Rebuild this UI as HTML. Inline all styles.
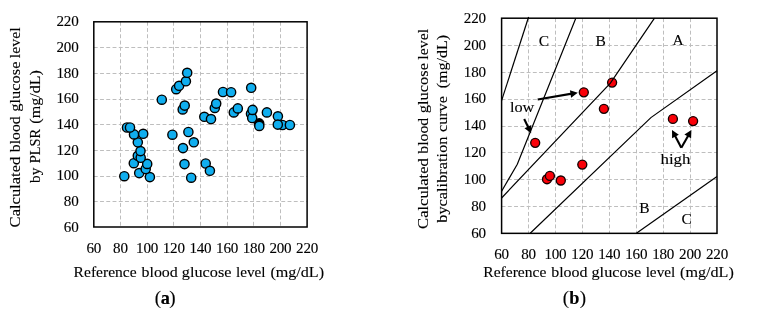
<!DOCTYPE html>
<html lang="en"><head><meta charset="utf-8"><title>Blood glucose level: PLSR and calibration curve</title>
<style>html,body{margin:0;padding:0;background:#fff}body{width:766px;height:312px;overflow:hidden}svg{display:block}text{font-family:"Liberation Serif",serif;font-size:14.67px;fill:#000;stroke:#000;stroke-width:0.12px}.grid{stroke:#bebebe;stroke-width:1;stroke-dasharray:3.9 2.35;fill:none}.lt{font-size:15.5px}.cap{font-size:18.3px}.tk text{font-size:15.1px;letter-spacing:-0.2px}.box{stroke:#000;stroke-width:1.5;fill:none}.ln{stroke:#000;stroke-width:1.2;fill:none}.pa{fill:#10aeef;stroke:#000;stroke-width:1.4}.pb{fill:#fa0008;stroke:#140000;stroke-width:1.35}.ar{stroke:#000;stroke-width:1.8;fill:none}</style></head><body>
<svg width="766" height="312" viewBox="0 0 766 312">
<rect width="766" height="312" fill="#fff"/>
<g class="grid">
<line x1="120.50" y1="21.80" x2="120.50" y2="227.00"/>
<line x1="93.80" y1="201.50" x2="307.10" y2="201.50"/>
<line x1="147.50" y1="21.80" x2="147.50" y2="227.00"/>
<line x1="93.80" y1="176.50" x2="307.10" y2="176.50"/>
<line x1="173.50" y1="21.80" x2="173.50" y2="227.00"/>
<line x1="93.80" y1="150.50" x2="307.10" y2="150.50"/>
<line x1="200.50" y1="21.80" x2="200.50" y2="227.00"/>
<line x1="93.80" y1="124.50" x2="307.10" y2="124.50"/>
<line x1="227.50" y1="21.80" x2="227.50" y2="227.00"/>
<line x1="93.80" y1="99.50" x2="307.10" y2="99.50"/>
<line x1="253.50" y1="21.80" x2="253.50" y2="227.00"/>
<line x1="93.80" y1="73.50" x2="307.10" y2="73.50"/>
<line x1="280.50" y1="21.80" x2="280.50" y2="227.00"/>
<line x1="93.80" y1="47.50" x2="307.10" y2="47.50"/>
</g>
<g class="pa">
<circle cx="124.3" cy="176.2" r="4.6"/>
<circle cx="149.9" cy="177.1" r="4.6"/>
<circle cx="139.2" cy="173.1" r="4.6"/>
<circle cx="145.7" cy="169.0" r="4.6"/>
<circle cx="147.2" cy="163.9" r="4.6"/>
<circle cx="133.8" cy="163.2" r="4.6"/>
<circle cx="137.8" cy="155.8" r="4.6"/>
<circle cx="140.7" cy="157.8" r="4.6"/>
<circle cx="140.5" cy="151.1" r="4.6"/>
<circle cx="137.8" cy="142.3" r="4.6"/>
<circle cx="134.0" cy="134.4" r="4.6"/>
<circle cx="143.2" cy="133.8" r="4.6"/>
<circle cx="127.0" cy="127.5" r="4.6"/>
<circle cx="130.0" cy="127.5" r="4.6"/>
<circle cx="191.2" cy="177.7" r="4.6"/>
<circle cx="184.5" cy="164.1" r="4.6"/>
<circle cx="183.0" cy="148.1" r="4.6"/>
<circle cx="193.8" cy="142.3" r="4.6"/>
<circle cx="172.4" cy="134.7" r="4.6"/>
<circle cx="188.4" cy="132.0" r="4.6"/>
<circle cx="182.7" cy="109.4" r="4.6"/>
<circle cx="184.7" cy="105.6" r="4.6"/>
<circle cx="161.8" cy="99.7" r="4.6"/>
<circle cx="176.2" cy="89.2" r="4.6"/>
<circle cx="179.1" cy="85.8" r="4.6"/>
<circle cx="185.9" cy="81.3" r="4.6"/>
<circle cx="187.2" cy="72.8" r="4.6"/>
<circle cx="205.7" cy="163.5" r="4.6"/>
<circle cx="209.9" cy="170.8" r="4.6"/>
<circle cx="204.3" cy="116.8" r="4.6"/>
<circle cx="211.0" cy="119.1" r="4.6"/>
<circle cx="214.8" cy="107.9" r="4.6"/>
<circle cx="216.2" cy="103.6" r="4.6"/>
<circle cx="233.8" cy="112.4" r="4.6"/>
<circle cx="237.8" cy="108.4" r="4.6"/>
<circle cx="223.0" cy="92.0" r="4.6"/>
<circle cx="231.1" cy="92.2" r="4.6"/>
<circle cx="259.2" cy="123.4" r="4.6" fill="#000"/>
<circle cx="259.3" cy="125.9" r="4.6"/>
<circle cx="251.0" cy="113.8" r="4.6"/>
<circle cx="252.2" cy="118.0" r="4.6"/>
<circle cx="252.6" cy="109.9" r="4.6"/>
<circle cx="266.9" cy="112.4" r="4.6"/>
<circle cx="282.5" cy="125.0" r="4.6"/>
<circle cx="289.9" cy="125.0" r="4.6"/>
<circle cx="277.9" cy="116.3" r="4.6"/>
<circle cx="277.8" cy="124.6" r="4.6"/>
<circle cx="251.2" cy="87.8" r="4.6"/>
</g>
<rect class="box" x="93.80" y="21.80" width="213.30" height="205.20"/>
<g class="tk" text-anchor="end">
<text x="78.5" y="231.60">60</text>
<text x="78.5" y="205.95">80</text>
<text x="78.5" y="180.30">100</text>
<text x="78.5" y="154.65">120</text>
<text x="78.5" y="129.00">140</text>
<text x="78.5" y="103.35">160</text>
<text x="78.5" y="77.70">180</text>
<text x="78.5" y="52.05">200</text>
<text x="78.5" y="26.40">220</text>
</g>
<g class="tk" text-anchor="middle">
<text x="93.80" y="253.3">60</text>
<text x="120.46" y="253.3">80</text>
<text x="147.12" y="253.3">100</text>
<text x="173.79" y="253.3">120</text>
<text x="200.45" y="253.3">140</text>
<text x="227.11" y="253.3">160</text>
<text x="253.77" y="253.3">180</text>
<text x="280.44" y="253.3">200</text>
<text x="307.10" y="253.3">220</text>
</g>
<text class="lt" y="277.20"><tspan x="73.60" textLength="63.07" lengthAdjust="spacingAndGlyphs">Reference</tspan> <tspan x="141.50" textLength="36.32" lengthAdjust="spacingAndGlyphs">blood</tspan> <tspan x="181.81" textLength="49.62" lengthAdjust="spacingAndGlyphs">glucose</tspan> <tspan x="235.95" textLength="29.61" lengthAdjust="spacingAndGlyphs">level</tspan> <tspan x="270.42" textLength="53.66" lengthAdjust="spacingAndGlyphs">(mg/dL)</tspan></text>
<text class="lt" transform="translate(19.90 0) rotate(-90)"><tspan x="-227.40" textLength="70.70" lengthAdjust="spacingAndGlyphs">Calculated</tspan> <tspan x="-152.20" textLength="35.92" lengthAdjust="spacingAndGlyphs">blood</tspan> <tspan x="-111.69" textLength="50.14" lengthAdjust="spacingAndGlyphs">glucose</tspan> <tspan x="-58.26" textLength="30.94" lengthAdjust="spacingAndGlyphs">level</tspan></text>
<text class="lt" transform="translate(39.90 0) rotate(-90)"><tspan x="-182.90" textLength="15.30" lengthAdjust="spacingAndGlyphs">by</tspan> <tspan x="-163.26" textLength="34.22" lengthAdjust="spacingAndGlyphs">PLSR</tspan> <tspan x="-123.68" textLength="53.46" lengthAdjust="spacingAndGlyphs">(mg/dL)</tspan></text>
<text class="cap" x="165.2" y="303.7" text-anchor="middle"><tspan style="font-size:19px">(</tspan><tspan font-weight="bold" dx="-0.5">a</tspan><tspan style="font-size:19px" dx="-0.5">)</tspan></text>
<g class="grid">
<line x1="528.50" y1="18.20" x2="528.50" y2="233.35"/>
<line x1="501.60" y1="206.50" x2="717.00" y2="206.50"/>
<line x1="555.50" y1="18.20" x2="555.50" y2="233.35"/>
<line x1="501.60" y1="179.50" x2="717.00" y2="179.50"/>
<line x1="582.50" y1="18.20" x2="582.50" y2="233.35"/>
<line x1="501.60" y1="152.50" x2="717.00" y2="152.50"/>
<line x1="609.50" y1="18.20" x2="609.50" y2="233.35"/>
<line x1="501.60" y1="126.50" x2="717.00" y2="126.50"/>
<line x1="636.50" y1="18.20" x2="636.50" y2="233.35"/>
<line x1="501.60" y1="99.50" x2="717.00" y2="99.50"/>
<line x1="663.50" y1="18.20" x2="663.50" y2="233.35"/>
<line x1="501.60" y1="72.50" x2="717.00" y2="72.50"/>
<line x1="690.50" y1="18.20" x2="690.50" y2="233.35"/>
<line x1="501.60" y1="45.50" x2="717.00" y2="45.50"/>
</g>
<g class="pb">
<circle cx="583.8" cy="92.3" r="4.5"/>
<circle cx="612.1" cy="82.6" r="4.5"/>
<circle cx="603.9" cy="108.8" r="4.5"/>
<circle cx="672.9" cy="118.9" r="4.5"/>
<circle cx="693.1" cy="121.1" r="4.5"/>
<circle cx="535.2" cy="142.8" r="4.5"/>
<circle cx="547.0" cy="179.2" r="4.5"/>
<circle cx="549.9" cy="175.9" r="4.5"/>
<circle cx="560.8" cy="180.5" r="4.5"/>
<circle cx="582.3" cy="164.6" r="4.5"/>
</g>
<g class="ln">
<polyline points="501.6,100.6 528.6,17.0"/>
<polyline points="501.6,191.2 517.3,164.2 575.8,18.2"/>
<polyline points="501.6,198.0 610.4,83.2 654.5,18.2"/>
<polyline points="530.2,233.3 650.9,117.6 717.0,70.8"/>
<polyline points="636.4,233.3 717.0,176.5"/>
</g>
<rect class="box" x="501.60" y="18.20" width="215.40" height="215.15"/>
<g>
<line x1="537.7" y1="99.5" x2="573.4" y2="93.4" stroke="#000" stroke-width="2.1"/>
<polygon points="577.8,92.7 571.1,97.7 569.9,90.2" fill="#000"/>
<line x1="524.2" y1="119.0" x2="529.2" y2="129.3" stroke="#000" stroke-width="2.1"/>
<polygon points="531.1,133.3 524.5,128.3 531.3,125.0" fill="#000"/>
<line x1="681.3" y1="147.8" x2="674.1" y2="133.9" stroke="#000" stroke-width="2.1"/>
<polygon points="672.0,130.0 678.8,134.8 672.1,138.3" fill="#000"/>
<line x1="681.3" y1="147.8" x2="689.2" y2="133.9" stroke="#000" stroke-width="2.1"/>
<polygon points="691.4,130.0 691.1,138.3 684.4,134.6" fill="#000"/>
</g>
<g class="tk" text-anchor="end">
<text x="485.9" y="237.95">60</text>
<text x="485.9" y="211.06">80</text>
<text x="485.9" y="184.16">100</text>
<text x="485.9" y="157.27">120</text>
<text x="485.9" y="130.38">140</text>
<text x="485.9" y="103.48">160</text>
<text x="485.9" y="76.59">180</text>
<text x="485.9" y="49.69">200</text>
<text x="485.9" y="22.80">220</text>
</g>
<g class="tk" text-anchor="middle">
<text x="501.60" y="259.4">60</text>
<text x="528.52" y="259.4">80</text>
<text x="555.45" y="259.4">100</text>
<text x="582.38" y="259.4">120</text>
<text x="609.30" y="259.4">140</text>
<text x="636.23" y="259.4">160</text>
<text x="663.15" y="259.4">180</text>
<text x="690.08" y="259.4">200</text>
<text x="717.00" y="259.4">220</text>
</g>
<text class="lt" y="276.50"><tspan x="483.30" textLength="63.07" lengthAdjust="spacingAndGlyphs">Reference</tspan> <tspan x="551.20" textLength="36.32" lengthAdjust="spacingAndGlyphs">blood</tspan> <tspan x="591.51" textLength="49.62" lengthAdjust="spacingAndGlyphs">glucose</tspan> <tspan x="645.65" textLength="29.61" lengthAdjust="spacingAndGlyphs">level</tspan> <tspan x="680.12" textLength="53.66" lengthAdjust="spacingAndGlyphs">(mg/dL)</tspan></text>
<text class="lt" transform="translate(427.60 0) rotate(-90)"><tspan x="-228.90" textLength="70.70" lengthAdjust="spacingAndGlyphs">Calculated</tspan> <tspan x="-153.70" textLength="35.92" lengthAdjust="spacingAndGlyphs">blood</tspan> <tspan x="-113.19" textLength="50.14" lengthAdjust="spacingAndGlyphs">glucose</tspan> <tspan x="-59.76" textLength="30.94" lengthAdjust="spacingAndGlyphs">level</tspan></text>
<text class="lt" transform="translate(447.00 0) rotate(-90)"><tspan x="-222.80" textLength="86.30" lengthAdjust="spacingAndGlyphs">bycalibration</tspan> <tspan x="-132.02" textLength="35.86" lengthAdjust="spacingAndGlyphs">curve</tspan> <tspan x="-88.38" textLength="53.56" lengthAdjust="spacingAndGlyphs">(mg/dL)</tspan></text>
<text class="cap" x="574.4" y="303.7" text-anchor="middle"><tspan style="font-size:19px">(</tspan><tspan font-weight="bold" dx="0.2">b</tspan><tspan style="font-size:19px" dx="0.2">)</tspan></text>
<text class="lt" x="544" y="46" text-anchor="middle">C</text>
<text class="lt" x="600.7" y="45.6" text-anchor="middle">B</text>
<text class="lt" x="678" y="45" text-anchor="middle">A</text>
<text class="lt" x="644.5" y="213.1" text-anchor="middle">B</text>
<text class="lt" x="686.7" y="224" text-anchor="middle">C</text>
<text class="lt" x="509.9" y="112" textLength="24.4" lengthAdjust="spacingAndGlyphs">low</text>
<text class="lt" x="660.5" y="163.5" textLength="30" lengthAdjust="spacingAndGlyphs">high</text>
</svg></body></html>
